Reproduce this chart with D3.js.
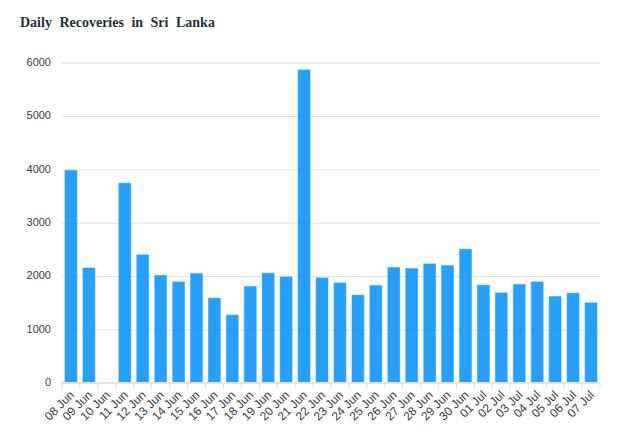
<!DOCTYPE html>
<html><head><meta charset="utf-8">
<script src="https://cdn.jsdelivr.net/npm/d3@7"></script>
<style>body{margin:0;background:#fff}svg{display:block}</style>
</head><body>
<svg id="c" width="625" height="435"></svg>
<script>
const title = "Daily Recoveries in Sri Lanka";
const categories = ["08 Jun","09 Jun","10 Jun","11 Jun","12 Jun","13 Jun","14 Jun","15 Jun","16 Jun","17 Jun","18 Jun","19 Jun","20 Jun","21 Jun","22 Jun","23 Jun","24 Jun","25 Jun","26 Jun","27 Jun","28 Jun","29 Jun","30 Jun","01 Jul","02 Jul","03 Jul","04 Jul","05 Jul","06 Jul","07 Jul"];
const recoveries = [3990,2160,0,3750,2406,2020,1900,2056,1594,1275,1812,2062,1994,5875,1975,1881,1650,1831,2169,2150,2237,2206,2512,1837,1694,1850,1900,1625,1687,1506];
const yTicks = [0,1000,2000,3000,4000,5000,6000];

const svg = d3.select("#c");
const m = {left:62, right:600, top:62.7, bottom:382.7};
const x = d3.scaleBand().domain(categories).range([m.left, m.right]).paddingInner(0.28).paddingOuter(0.14);
const xb = d3.scaleBand().domain(categories).range([m.left, m.right]);
const y = d3.scaleLinear().domain([0,6000]).range([m.bottom, m.top]);

svg.append("text").attr("x",20).attr("y",26.5).text(title)
  .attr("font-family","'Liberation Serif', 'Times New Roman', serif").attr("font-weight","bold")
  .attr("font-size","14px").attr("fill","#263238").style("word-spacing","4px");

// grid
const ya = d3.axisLeft(y).tickValues(yTicks).tickSize(-(m.right-m.left)).tickFormat(d3.format("d")).tickPadding(11);
const gy = svg.append("g").attr("transform",`translate(${m.left},0)`).call(ya);
gy.select(".domain").remove();
gy.selectAll(".tick line").attr("stroke","#e0e0e0").attr("stroke-width",1);
gy.selectAll(".tick text").attr("font-family","Helvetica, Arial, 'Liberation Sans', sans-serif")
  .attr("font-size","11px").attr("fill","#373d3f").attr("dy","0.25em");

// bars
svg.append("g").selectAll("rect").data(categories).join("rect")
  .attr("x", d=>x(d)).attr("width", x.bandwidth())
  .attr("y", (d,i)=>y(recoveries[i])).attr("height",(d,i)=>y(0)-y(recoveries[i]))
  .attr("fill","#008FFB").attr("fill-opacity",0.85)
  .attr("stroke","#ffffff").attr("stroke-opacity",0.45).attr("stroke-width",1);

// x axis
const gx = svg.append("g").attr("transform",`translate(0,${m.bottom})`);
gx.append("line").attr("x1",m.left).attr("x2",m.right).attr("stroke","#e0e0e0").attr("stroke-width",1.5);
const ticks = categories.map(c=>xb(c)).concat([m.right]);
gx.selectAll("line.t").data(ticks).join("line").attr("class","t")
  .attr("x1",d=>d).attr("x2",d=>d).attr("y1",0).attr("y2",6).attr("stroke","#e0e0e0");
gx.selectAll("text").data(categories).join("text")
  .attr("transform", d=>`translate(${xb(d)+xb.bandwidth()/2+1},${10}) rotate(-45)`)
  .attr("text-anchor","end").attr("dy","0.35em")
  .attr("font-family","Helvetica, Arial, 'Liberation Sans', sans-serif").attr("font-size","12px")
  .attr("fill","#373d3f").text(d=>d);
</script>
</body></html>
